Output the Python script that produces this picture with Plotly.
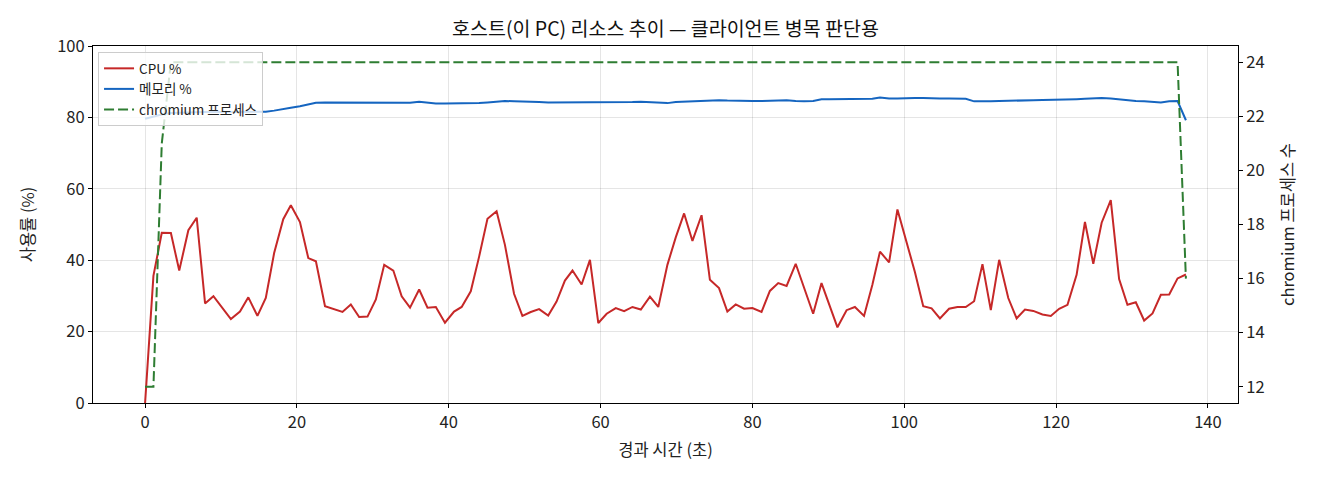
import plotly.graph_objects as go

# elapsed seconds per sample
t_sec = [
    0.0, 1.1, 2.2, 3.4, 4.5, 5.7, 6.8, 7.9, 9.0, 10.2,
    11.3, 12.5, 13.6, 14.8, 15.9, 17.0, 18.2, 19.2, 20.4, 21.5,
    22.5, 23.7, 24.8, 26.0, 27.1, 28.2, 29.3, 30.4, 31.5, 32.7,
    33.8, 34.9, 36.1, 37.2, 38.3, 39.5, 40.7, 41.7, 42.9, 44.0,
    45.1, 46.3, 47.4, 48.6, 49.7, 50.8, 51.9, 53.1, 54.2, 55.3,
    56.3, 57.5, 58.6, 59.7, 60.8, 62.0, 63.1, 64.2, 65.3, 66.5,
    67.6, 68.8, 69.9, 71.0, 72.1, 73.3, 74.4, 75.6, 76.7, 77.8,
    78.9, 80.0, 81.2, 82.3, 83.4, 84.5, 85.7, 86.8, 88.0, 89.1,
    90.1, 91.2, 92.4, 93.5, 94.7, 95.8, 96.8, 98.0, 99.1, 100.2,
    101.4, 102.5, 103.6, 104.7, 105.9, 107.0, 108.1, 109.2, 110.3, 111.4,
    112.5, 113.7, 114.8, 115.9, 117.0, 118.2, 119.3, 120.4, 121.5, 122.7,
    123.8, 124.9, 126.0, 127.2, 128.3, 129.4, 130.5, 131.6, 132.7, 133.8,
    134.9, 136.0, 137.1,
]

cpu_pct = [
    0.0, 35.6, 47.7, 47.6, 37.1, 48.4, 51.9, 27.9, 29.9, 26.7,
    23.5, 25.6, 29.6, 24.4, 29.4, 42.0, 51.5, 55.4, 50.7, 40.6,
    39.7, 27.1, 26.4, 25.5, 27.6, 24.1, 24.2, 29.0, 38.7, 37.1,
    29.9, 26.7, 31.8, 26.7, 26.9, 22.5, 25.6, 26.9, 31.3, 41.0,
    51.6, 53.7, 44.3, 30.6, 24.4, 25.5, 26.3, 24.5, 28.4, 34.3,
    37.1, 33.2, 40.1, 22.4, 25.0, 26.6, 25.7, 26.9, 26.2, 29.8,
    26.9, 38.7, 46.4, 53.1, 45.4, 52.6, 34.5, 32.2, 25.6, 27.6,
    26.4, 26.6, 25.5, 31.4, 33.6, 32.8, 39.0, 32.2, 25.0, 33.6,
    27.6, 21.2, 26.0, 26.9, 24.4, 33.1, 42.4, 39.4, 54.2, 46.1,
    36.7, 27.1, 26.5, 23.7, 26.4, 26.9, 26.9, 28.5, 38.9, 26.0,
    40.1, 29.4, 23.7, 26.2, 25.8, 24.8, 24.4, 26.4, 27.5, 35.9,
    50.7, 39.0, 50.5, 56.8, 34.7, 27.5, 28.2, 23.1, 25.1, 30.3,
    30.4, 34.9, 36.0,
]

mem_pct = [
    79.6, 80.2, 80.8, 81.2, 81.3, 81.4, 81.4, 81.5, 81.5, 81.5,
    81.5, 81.5, 81.6, 81.6, 81.6, 81.9, 82.4, 82.7, 83.1, 83.6,
    84.1, 84.2, 84.2, 84.1, 84.1, 84.1, 84.1, 84.0, 84.0, 84.2,
    84.1, 84.1, 84.4, 84.1, 83.9, 83.9, 83.9, 84.0, 84.0, 84.0,
    84.2, 84.5, 84.6, 84.5, 84.5, 84.4, 84.3, 84.2, 84.2, 84.1,
    84.1, 84.2, 84.2, 84.2, 84.3, 84.2, 84.2, 84.3, 84.4, 84.3,
    84.1, 84.0, 84.3, 84.4, 84.6, 84.6, 84.7, 84.8, 84.7, 84.6,
    84.5, 84.6, 84.6, 84.7, 84.7, 84.8, 84.6, 84.5, 84.6, 85.1,
    85.1, 85.1, 85.1, 85.0, 85.0, 85.2, 85.6, 85.3, 85.3, 85.4,
    85.4, 85.4, 85.3, 85.3, 85.3, 85.3, 85.2, 84.5, 84.4, 84.5,
    84.6, 84.6, 84.7, 84.8, 84.8, 84.9, 84.9, 84.9, 85.0, 85.1,
    85.2, 85.3, 85.4, 85.3, 85.0, 84.7, 84.6, 84.5, 84.4, 84.2,
    84.5, 84.6, 79.2,
]

chromium_procs = [
    12, 12, 21, 24, 24, 24, 24, 24, 24, 24,
    24, 24, 24, 24, 24, 24, 24, 24, 24, 24,
    24, 24, 24, 24, 24, 24, 24, 24, 24, 24,
    24, 24, 24, 24, 24, 24, 24, 24, 24, 24,
    24, 24, 24, 24, 24, 24, 24, 24, 24, 24,
    24, 24, 24, 24, 24, 24, 24, 24, 24, 24,
    24, 24, 24, 24, 24, 24, 24, 24, 24, 24,
    24, 24, 24, 24, 24, 24, 24, 24, 24, 24,
    24, 24, 24, 24, 24, 24, 24, 24, 24, 24,
    24, 24, 24, 24, 24, 24, 24, 24, 24, 24,
    24, 24, 24, 24, 24, 24, 24, 24, 24, 24,
    24, 24, 24, 24, 24, 24, 24, 24, 24, 24,
    24, 24, 16,
]

FONT = "Noto Sans CJK KR"

fig = go.Figure()
fig.add_trace(go.Scatter(x=t_sec, y=cpu_pct, name="CPU %", mode="lines",
                         line=dict(color="#c62828", width=2)))
fig.add_trace(go.Scatter(x=t_sec, y=mem_pct, name="메모리 %", mode="lines",
                         line=dict(color="#1565c0", width=2)))
fig.add_trace(go.Scatter(x=t_sec, y=chromium_procs, name="chromium 프로세스",
                         mode="lines", yaxis="y2",
                         line=dict(color="#2e7d32", width=2, dash="10px,4px")))

axis_common = dict(
    showline=True, linecolor="black", linewidth=1,
    ticks="outside", ticklen=4, tickcolor="black",
    tickfont=dict(size=16.5, color="#222"),
    zeroline=False,
)

# page has an 8px body offset, margins compensate for it
fig.update_layout(
    width=1320, height=480,
    margin=dict(l=85, r=90, t=38, b=85),
    paper_bgcolor="white", plot_bgcolor="white",
    font=dict(family=FONT, color="#222"),
    title=dict(text="호스트(이 PC) 리소스 추이 — 클라이언트 병목 판단용",
               x=0.5, xref="paper", xanchor="center",
               y=1 - 21 / 480, yref="container", yanchor="middle",
               font=dict(size=19.5, color="#111")),
    xaxis=dict(**axis_common, mirror=True, range=[-6.86, 143.96],
               tickvals=[0, 20, 40, 60, 80, 100, 120, 140],
               showgrid=True, gridcolor="rgba(0,0,0,0.1)",
               title=dict(text="경과 시간 (초)", font=dict(size=16.5), standoff=12)),
    yaxis=dict(**axis_common, range=[0, 100],
               tickvals=[0, 20, 40, 60, 80, 100],
               showgrid=True, gridcolor="rgba(0,0,0,0.1)",
               title=dict(text="사용률 (%)", font=dict(size=16.5), standoff=18)),
    yaxis2=dict(**axis_common, overlaying="y", side="right",
                range=[11.4, 24.6], tickvals=[12, 14, 16, 18, 20, 22, 24],
                showgrid=False,
                title=dict(text="chromium 프로세스 수", font=dict(size=16.5), standoff=18)),
    legend=dict(x=0.0044, y=0.983, xanchor="left", yanchor="top",
                bgcolor="rgba(255,255,255,0.8)", bordercolor="#ccc",
                borderwidth=1, font=dict(size=13.5, color="#222"),
                itemwidth=30, tracegroupgap=0),
    showlegend=True,
)

fig.write_html("out.html")
